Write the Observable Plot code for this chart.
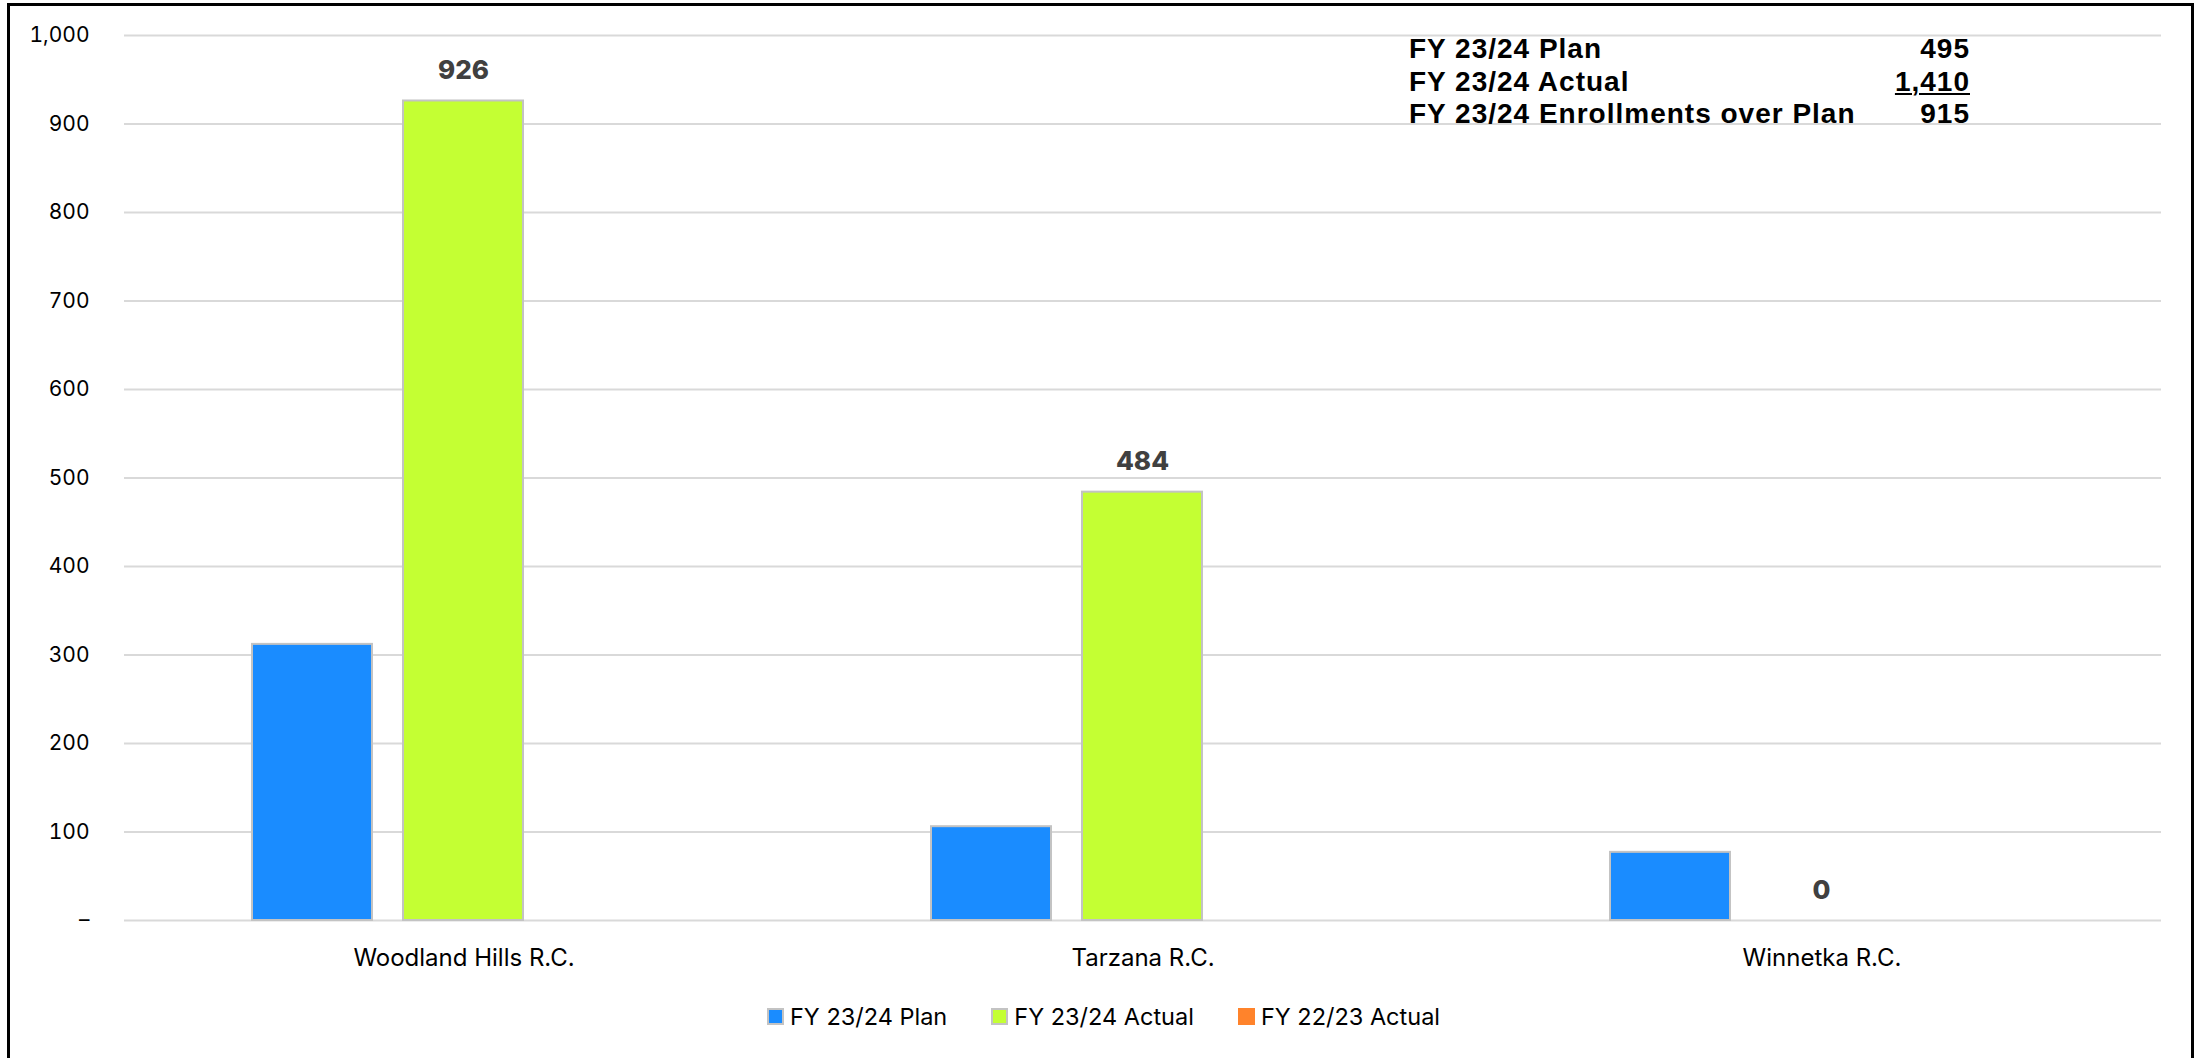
<!DOCTYPE html>
<html>
<head>
<meta charset="utf-8">
<script src="https://cdn.jsdelivr.net/npm/d3@7"></script>
<script src="https://cdn.jsdelivr.net/npm/@observablehq/plot@0.6"></script>
<style>
  html, body { margin: 0; padding: 0; background: #fff; overflow: hidden; width: 2199px; height: 1058px; }
  #frame { position: absolute; left: 7px; top: 3px; width: 2187px; height: 1090px; border: 3px solid #000; box-sizing: border-box; pointer-events: none; }
  #chart { position: absolute; left: 0; top: 0; }
  #summary { position: absolute; left: 1409px; top: 33px; width: 561px; font-family: "Liberation Sans", Arial, sans-serif; font-weight: 700; font-size: 28px; letter-spacing: 1px; line-height: 32.5px; color: #000; }
  #summary .row { display: flex; justify-content: space-between; height: 32.5px; }
  #summary .u { text-decoration: underline; text-decoration-thickness: 2px; text-underline-offset: 2px; }
  #legend { position: absolute; left: 4px; width: 2199px; top: 1002px; display: flex; justify-content: center; gap: 44px; font-family: Inter, sans-serif; font-size: 23.5px; color: #000; }
  #legend .item { display: flex; align-items: center; gap: 6px; }
  #legend .sw { width: 17px; height: 17px; box-sizing: border-box; }
</style>
</head>
<body>
<div id="chart"></div>
<div id="summary"></div>
<div id="legend"></div>
<div id="frame"></div>
<script>
// ---- data ----
const sites = ["Woodland Hills R.C.", "Tarzana R.C.", "Winnetka R.C."];
const seriesNames = ["FY 23/24 Plan", "FY 23/24 Actual", "FY 22/23 Actual"];
const plan2324 = [312, 106, 77];
const actual2324 = [926, 484, 0];
const actual2223 = [0, 0, 0];
const seriesColors = ["#1a8cff", "#c4ff33", "#ff832b"];
const seriesStrokes = ["#c3c3c3", "#c3c3c3", "none"];
const yTicks = [0, 100, 200, 300, 400, 500, 600, 700, 800, 900, 1000];
const summaryLabels = ["FY 23/24 Plan", "FY 23/24 Actual", "FY 23/24 Enrollments over Plan"];

const seriesValues = [plan2324, actual2324, actual2223];
const rows = [];
sites.forEach((s, i) => {
  seriesNames.forEach((n, j) => rows.push({site: s, series: n, value: seriesValues[j][i]}));
});

const fmt = d3.format(",");
const planTotal = d3.sum(plan2324);
const actualTotal = d3.sum(actual2324);
const summaryValues = [planTotal, actualTotal, actualTotal - planTotal];

const chart = Plot.plot({
  width: 2199,
  height: 985,
  marginTop: 35,
  marginBottom: 65,
  marginLeft: 123,
  marginRight: 38,
  style: {fontFamily: "Inter, sans-serif", background: "transparent", overflow: "visible"},
  fx: {domain: sites, padding: 0},
  x: {domain: seriesNames, paddingInner: 0.205, paddingOuter: 0.85, axis: null},
  y: {domain: [0, 1000]},
  color: {domain: seriesNames, range: seriesColors},
  marks: [
    Plot.gridY(yTicks, {stroke: "#d9d9d9", strokeOpacity: 1, strokeWidth: 2}),
    Plot.axisY(yTicks, {tickSize: 0, tickPadding: 35, fontSize: 21, fill: "#000",
      tickFormat: d => d === 0 ? "–" : fmt(d), label: null}),
    Plot.axisFx({anchor: "bottom", tickSize: 0, tickPadding: 28, fontSize: 24, fill: "#000", label: null}),
    Plot.barY(rows.filter(d => d.value > 0), {
      fx: "site", x: "series", y: "value",
      fill: "series",
      stroke: d => seriesStrokes[seriesNames.indexOf(d.series)],
      strokeWidth: 2
    }),
    Plot.text(rows.filter(d => d.series === "FY 23/24 Actual"), {
      fx: "site", x: "series", y: "value",
      text: d => fmt(d.value), dy: -30,
      fontSize: 26, fontWeight: 800, fill: "#404040"
    })
  ]
});
document.getElementById("chart").appendChild(chart);

// summary text box
const sum = document.getElementById("summary");
summaryLabels.forEach((lab, i) => {
  const r = document.createElement("div");
  r.className = "row";
  const a = document.createElement("span"); a.textContent = lab;
  const b = document.createElement("span"); b.textContent = fmt(summaryValues[i]);
  if (i === 1) b.className = "u";
  r.appendChild(a); r.appendChild(b);
  sum.appendChild(r);
});

// legend
const leg = document.getElementById("legend");
seriesNames.forEach((n, i) => {
  const it = document.createElement("div"); it.className = "item";
  const sw = document.createElement("div"); sw.className = "sw";
  sw.style.background = seriesColors[i];
  if (seriesStrokes[i] !== "none") sw.style.border = "2px solid " + seriesStrokes[i];
  const t = document.createElement("span"); t.textContent = n;
  it.appendChild(sw); it.appendChild(t); leg.appendChild(it);
});
</script>
</body>
</html>
